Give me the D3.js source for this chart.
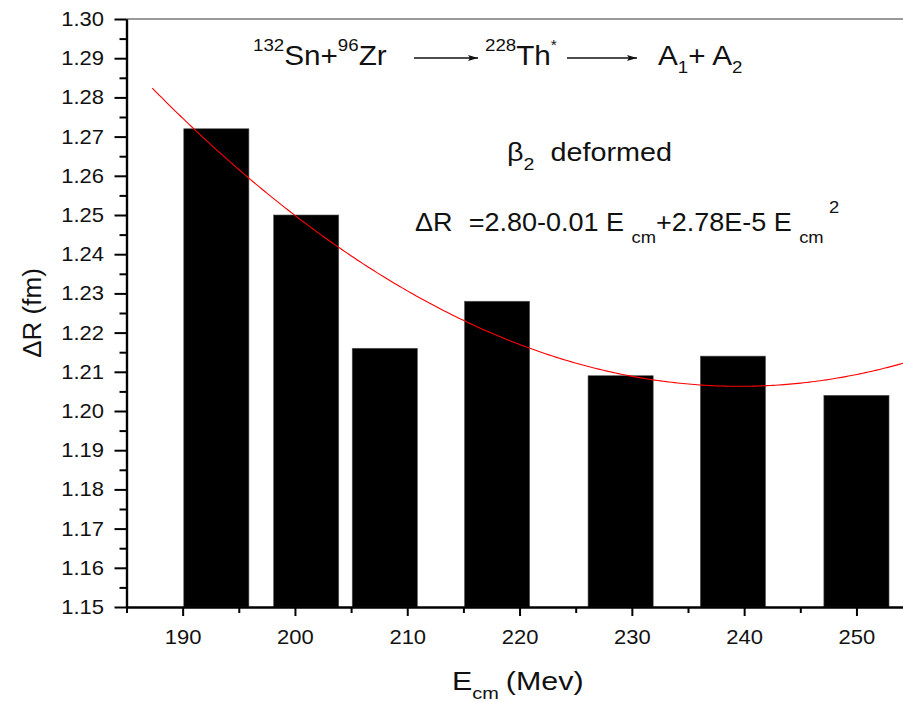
<!DOCTYPE html>
<html><head><meta charset="utf-8">
<script src="https://cdn.jsdelivr.net/npm/d3@7"></script>
<style>body{margin:0;background:#fff}svg{display:block;font-family:"Liberation Sans",Arial,sans-serif}</style>
</head><body>
<svg id="c" width="903" height="702"></svg>
<script>
// ---- data ----
const energies = [193, 201, 208, 218, 229, 239, 250];           // E_cm (MeV), bar centres
const deltaR   = [1.272, 1.250, 1.216, 1.228, 1.209, 1.214, 1.204]; // ΔR (fm)
const barWidthMeV = 5.8;
const xTicks = [190, 200, 210, 220, 230, 240, 250];
const xMinorTicks = [185, 195, 205, 215, 225, 235, 245];
const yTicks = [1.15,1.16,1.17,1.18,1.19,1.20,1.21,1.22,1.23,1.24,1.25,1.26,1.27,1.28,1.29,1.30];
const yMinorTicks = [1.155,1.165,1.175,1.185,1.195,1.205,1.215,1.225,1.235,1.245,1.255,1.265,1.275,1.285,1.295];
// quadratic fit ΔR = c0 + c1 E + c2 E^2 (fit curve drawn on chart)
const fitCoefficients = [2.8023, -0.013322, 2.78e-5];
const fitRange = [187.3, 256];

const svg = d3.select("#c");
const x = d3.scaleLinear().domain([185, 255]).range([126.5, 912.6]);
const y = d3.scaleLinear().domain([1.15, 1.30]).range([607, 19]);

// bars
svg.append("g").selectAll("rect").data(energies).join("rect")
  .attr("x", d => x(d - barWidthMeV/2))
  .attr("width", d => x(d + barWidthMeV/2) - x(d - barWidthMeV/2))
  .attr("y", (d,i) => y(deltaR[i]))
  .attr("height", (d,i) => y(1.15) - y(deltaR[i]))
  .attr("fill", "#000").attr("stroke", "#555").attr("stroke-width", 0.6);

// fit curve
const fitE = d3.range(fitRange[0], fitRange[1], 0.25);
const line = d3.line().x(e => x(e)).y(e => y(fitCoefficients[0] + fitCoefficients[1]*e + fitCoefficients[2]*e*e));
svg.append("path").datum(fitE).attr("d", line).attr("fill","none").attr("stroke","#ff0000").attr("stroke-width",1.1);

// top frame line
svg.append("line").attr("x1", x(185)).attr("x2", 903).attr("y1", y(1.30)).attr("y2", y(1.30))
  .attr("stroke", "#777").attr("stroke-width", 1.5);

// y axis
const yAx = svg.append("g").attr("transform", `translate(${x(185)},0)`)
  .call(d3.axisLeft(y).tickValues(yTicks).tickFormat(d3.format(".2f")).tickSize(12).tickSizeOuter(0));
const yMin = svg.append("g").attr("transform", `translate(${x(185)},0)`)
  .call(d3.axisLeft(y).tickValues(yMinorTicks).tickFormat("").tickSize(7).tickSizeOuter(0));
// x axis
const xAx = svg.append("g").attr("transform", `translate(0,${y(1.15)})`)
  .call(d3.axisBottom(x).tickValues(xTicks).tickSize(9).tickSizeOuter(0).tickPadding(14));
const xMin = svg.append("g").attr("transform", `translate(0,${y(1.15)})`)
  .call(d3.axisBottom(x).tickValues(xMinorTicks).tickFormat("").tickSize(6).tickSizeOuter(0));
[yAx, yMin, xAx, xMin].forEach(g => {
  g.select(".domain").attr("stroke","#000").attr("stroke-width",2.2);
  g.selectAll(".tick line").attr("stroke","#000").attr("stroke-width",2);
  g.selectAll(".tick text").attr("font-size", 20).attr("fill","#111")
    .attr("font-family", '"Liberation Sans",Arial,sans-serif');
});
const tickSx = 1.1;
xAx.selectAll(".tick text").attr("transform",`scale(${tickSx},1)`);
yAx.selectAll(".tick text").attr("transform",`scale(${tickSx},1)`).attr("x", -22.5/tickSx);

// axis titles
svg.append("text").attr("transform","translate(41,313) rotate(-90)").attr("text-anchor","middle")
  .attr("font-size",26).attr("fill","#111").text("ΔR (fm)");
const xt = svg.append("text").attr("transform","translate(452,690) scale(1.17,1)").attr("font-size",26).attr("fill","#111");
xt.append("tspan").text("E");
xt.append("tspan").attr("dy",9).attr("font-size",17).text("cm");
xt.append("tspan").attr("dy",-9).attr("dx",6).text("(Mev)");

// annotations
function label(xp, yp, sx, size) {
  return svg.append("text").attr("transform", `translate(${xp},${yp}) scale(${sx},1)`)
    .attr("font-size", size).attr("fill", "#111");
}
let t = label(253, 65, 1.1, 27);
t.append("tspan").attr("font-size",17).attr("dy",-14).text("132");
t.append("tspan").attr("dy",14).text("Sn+");
t.append("tspan").attr("font-size",17).attr("dy",-14).text("96");
t.append("tspan").attr("dy",14).text("Zr");
t = label(485, 65, 1.1, 27);
t.append("tspan").attr("font-size",17).attr("dy",-14).text("228");
t.append("tspan").attr("dy",14).text("Th");
t.append("tspan").attr("font-size",14).attr("dy",-15).text("*");
t = label(658, 65, 1.1, 27);
t.append("tspan").text("A");
t.append("tspan").attr("font-size",17).attr("dy",8).text("1");
t.append("tspan").attr("dy",-8).text("+ A");
t.append("tspan").attr("font-size",17).attr("dy",8).text("2");

const defs = svg.append("defs");
defs.append("marker").attr("id","arr").attr("viewBox","0 0 10 6").attr("refX",10).attr("refY",3)
  .attr("markerWidth",10).attr("markerHeight",6).attr("markerUnits","userSpaceOnUse").attr("orient","auto")
  .append("path").attr("d","M0,0 L10,3 L0,6 L2,3 Z").attr("fill","#111");
[[414,478],[567,637]].forEach(([a,b]) => svg.append("line").attr("x1",a).attr("x2",b).attr("y1",58).attr("y2",58)
  .attr("stroke","#111").attr("stroke-width",1.3).attr("marker-end","url(#arr)"));

t = label(507, 161, 1.15, 25);
t.append("tspan").text("β");
t.append("tspan").attr("font-size",17).attr("dy",9).text("2");
t.append("tspan").attr("dy",-9).attr("dx",14).text("deformed");

t = label(415, 231, 1.08, 25);
t.append("tspan").text("ΔR");
t.append("tspan").attr("dx",15).text("=2.80-0.01 E ");
t.append("tspan").attr("font-size",17).attr("dy",12).text("cm");
t.append("tspan").attr("dy",-12).text("+2.78E-5 E ");
t.append("tspan").attr("font-size",17).attr("dy",12).text("cm");
t.append("tspan").attr("font-size",17).attr("dy",-30).attr("dx",5).text("2");
</script>
</body></html>
